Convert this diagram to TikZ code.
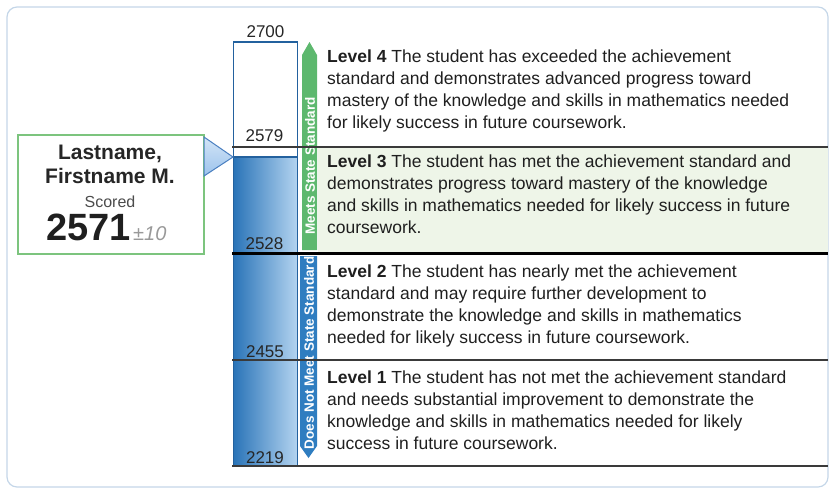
\documentclass[tikz,border=0pt]{standalone}
\usepackage{fontspec}
\setmainfont{Liberation Sans}
\definecolor{framec}{HTML}{C4D6E8}
\definecolor{barblue}{HTML}{23619E}
\definecolor{barleft}{HTML}{2A74B8}
\definecolor{barmid}{HTML}{7DB4E3}
\definecolor{barright}{HTML}{B4D4F0}
\definecolor{meetsgreen}{HTML}{5DB86E}
\definecolor{notblue}{HTML}{2F7DC0}
\definecolor{lthreebg}{HTML}{EEF5E8}
\definecolor{boxgreen}{HTML}{7CC47E}
\definecolor{ptrfill}{HTML}{9CC3EC}
\definecolor{ptrlight}{HTML}{D3E5F7}
\definecolor{ptrborder}{HTML}{4A7FC0}
\definecolor{rulegray}{HTML}{3A3A3A}
\tikzset{
  leveltext/.style={anchor=base west, align=left, inner sep=0pt, text=black!88,
    font=\fontsize{17.5}{21.7}\selectfont},
  scalelabel/.style={anchor=base, inner sep=0pt, text=black!85,
    font=\fontsize{17}{17}\selectfont},
  bandtext/.style={rotate=90, inner sep=0pt, text=white,
    font=\bfseries\fontsize{13.5}{13.5}\selectfont},
  thinrule/.style={draw=rulegray, line width=1.2pt},
}
\begin{document}
\begin{tikzpicture}[x=1pt,y=-1pt]
\useasboundingbox (0,0) rectangle (834,491);
% outer frame
\draw[framec, line width=1.2pt, rounded corners=10pt] (7,7) rectangle (828,487);
% level 3 background
\fill[lthreebg] (318,148) rectangle (828,253);
% top (empty) box and filled bar
\draw[barblue, line width=1.6pt, fill=white] (233.5,42) rectangle (297.5,157);
\shade[left color=barleft, middle color=barmid, right color=barright] (233.5,157) rectangle (297.5,466);
\draw[barblue, line width=1.6pt] (233.5,157) rectangle (297.5,466);
% bands
\fill[meetsgreen] (302,250) -- (302,55) -- (309.5,42) -- (317,55) -- (317,250) -- cycle;
\fill[notblue] (300,256) -- (317,256) -- (317,446) -- (308.5,458) -- (300,446) -- cycle;
\node[bandtext] (meets) at (310,166) {Meets State Standard};
\node[bandtext] (notmeet) at (309,353) {Does Not Meet State Standard};
% rules
\draw[thinrule] (232,147) -- (828,147);
\draw[black, line width=3pt] (232,253) -- (828,253);
\draw[thinrule] (232,360) -- (828,360);
\draw[thinrule] (232,466) -- (828,466);
% scale labels
\node[scalelabel] (s2700) at (265.5,37) {2700};
\node[scalelabel] (s2579) at (264.5,141) {2579};
\node[scalelabel] (s2528) at (264.5,249) {2528};
\node[scalelabel] (s2455) at (265,357) {2455};
\node[scalelabel] (s2219) at (265,463) {2219};
% score box
\node[draw=boxgreen, line width=1.6pt, fill=white, anchor=north west,
      minimum width=186pt, minimum height=119pt, inner sep=0pt] (scorebox) at (17,134) {};
\node[anchor=base, inner sep=0pt, font=\bfseries\fontsize{21}{21}\selectfont, text=black!85] (lname) at (110,159) {Lastname,};
\node[anchor=base, inner sep=0pt, font=\bfseries\fontsize{21}{21}\selectfont, text=black!85] (fname) at (110,183) {Firstname M.};
\node[anchor=base, inner sep=0pt, font=\fontsize{16}{16}\selectfont, text=black!70] (scored) at (110,207) {Scored};
\node[anchor=base east, inner sep=0pt, font=\bfseries\fontsize{38}{38}\selectfont, text=black!88] (score) at (131,240) {2571};
\node[anchor=base west, inner sep=0pt, font=\itshape\fontsize{20}{20}\selectfont, text=black!40] (err) at (133,240) {±10};
% pointer
\draw[ptrborder, line width=1pt, top color=ptrlight, bottom color=ptrfill] (204,137) -- (233,157) -- (204,176) -- cycle;
% level descriptions (anchored at the baseline of the last line)
\node[leveltext] (l4) at (327,128) {\textbf{Level 4} The student has exceeded the achievement\\standard and demonstrates advanced progress toward\\mastery of the knowledge and skills in mathematics needed\\for likely success in future coursework.};
\node[leveltext] (l3) at (327,233) {\textbf{Level 3} The student has met the achievement standard and\\demonstrates progress toward mastery of the knowledge\\and skills in mathematics needed for likely success in future\\coursework.};
\node[leveltext] (l2) at (327,343) {\textbf{Level 2} The student has nearly met the achievement\\standard and may require further development to\\demonstrate the knowledge and skills in mathematics\\needed for likely success in future coursework.};
\node[leveltext] (l1) at (327,449) {\textbf{Level 1} The student has not met the achievement standard\\and needs substantial improvement to demonstrate the\\knowledge and skills in mathematics needed for likely\\success in future coursework.};
\end{tikzpicture}
\end{document}
